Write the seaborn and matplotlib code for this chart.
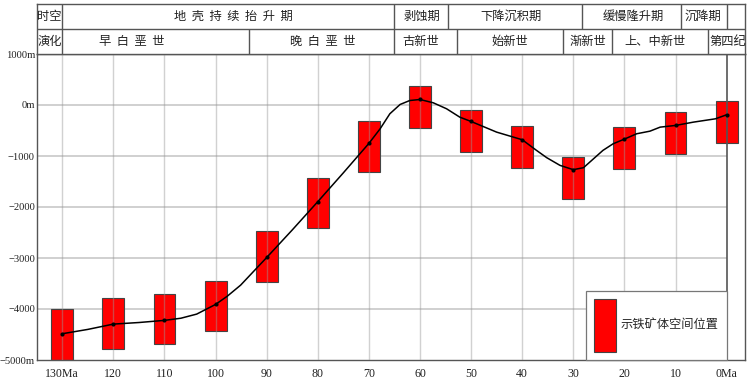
import matplotlib
matplotlib.use("Agg")
import matplotlib.pyplot as plt
from matplotlib.patches import Patch
import seaborn as sns
import pandas as pd

# ---------------- data ----------------
ages = [130, 120, 110, 100, 90, 80, 70, 60, 50, 40, 30, 20, 10, 0]
bar_top = [-4000, -3790, -3710, -3450, -2470, -1425, -317, 382, -94, -421, -1022, -434, -147, 75]
bar_bottom = [-5000, -4780, -4690, -4430, -3470, -2417, -1307, -446, -924, -1237, -1836, -1256, -969, -747]
point_depth = [-4485, -4296, -4223, -3910, -2990, -1895, -753, 108, -323, -681, -1268, -669, -401, -192]

curve_ma = [130, 125, 120, 115, 110, 106.8, 103.7, 100, 97.7, 95.1, 90, 85, 80, 75, 70,
            67.8, 65.9, 63.9, 62, 60, 57.4, 54.8, 52.2, 50, 45, 40, 37.2, 35.2, 32.6, 30,
            28, 24.2, 22.2, 20, 17.6, 15, 13, 10, 6.5, 2.2, 0]
curve_depth = [-4485, -4400, -4296, -4265, -4223, -4181, -4100, -3910, -3748, -3532, -2990,
               -2450, -1895, -1330, -753, -466, -172, 10, 88, 108, 43, -74, -239, -323,
               -532, -681, -890, -1033, -1184, -1268, -1229, -890, -760, -669, -564, -513,
               -434, -401, -336, -271, -192]

x_ticks = [130, 120, 110, 100, 90, 80, 70, 60, 50, 40, 30, 20, 10, 0]
x_labels = ["130Ma", "120", "110", "100", "90", "80", "70", "60", "50", "40", "30", "20", "10", "0Ma"]
y_ticks = [1000, 0, -1000, -2000, -3000, -4000, -5000]
y_labels = ["1000m", "0m", "\u22121000", "\u22122000", "\u22123000", "\u22124000", "\u22125000m"]

legend_label = "示铁矿体空间位置"

# header rows: (label, x position in Ma)
row1_labels = ["时空", "地  壳  持  续  抬  升  期", "剥蚀期", "下降沉积期", "缓慢隆升期", "沉降期"]
row1_pos = [132.5, 96.6, 59.7, 42.1, 18.3, 4.7]
row1_bounds = [130, 65.1, 54.5, 28.3, 8.9, 0]
row2_labels = ["演化", "早  白  垩  世", "晚  白  垩  世", "古新世", "始新世", "渐新世", "上、中新世", "第四纪"]
row2_pos = [132.5, 116.4, 79.0, 59.8, 42.4, 27.1, 14.0, 3.4]
row2_bounds = [130, 93.4, 65.1, 52.8, 32.0, 22.4, 3.6]

# ---------------- style ----------------
sns.set_theme(style="white")
plt.rcParams["font.family"] = ["Liberation Serif", "Noto Sans CJK SC", "DejaVu Sans"]
plt.rcParams["axes.unicode_minus"] = True
CJK = ["Noto Sans CJK SC", "DejaVu Sans"]
LINE = "#555555"
GRID = "#c8c8c8"

W, H = 748, 382
fig = plt.figure(figsize=(W / 100, H / 100), dpi=100)

X0, X1 = 37, 745
Y_TOP, Y_BOT = 54, 360
HEAD_TOP = 4
XLIM = (134.95, -3.6)

ax = fig.add_axes([X0 / W, 1 - Y_BOT / H, (X1 - X0) / W, (Y_BOT - Y_TOP) / H])
axh = fig.add_axes([X0 / W, 1 - Y_TOP / H, (X1 - X0) / W, (Y_TOP - HEAD_TOP) / H])

# ---------------- main plot ----------------
ax.set_xlim(*XLIM)
ax.set_ylim(-5000, 1000)

# horizontal grid lines (stop at 0 Ma)
ax.hlines([0, -1000, -2000, -3000, -4000], XLIM[0], 0, color=GRID, lw=1.2, zorder=0)

bar_height = [t - b for t, b in zip(bar_top, bar_bottom)]
ax.bar(ages, bar_height, bottom=bar_bottom, width=4.3, color="#ff0000",
       edgecolor="#444444", linewidth=0.8, zorder=2)

# vertical grid lines, drawn over bars
for a in x_ticks[:-1]:
    ax.axvline(a, color="#999999", lw=1.0, alpha=0.45, zorder=3)
ax.axvline(0, color=LINE, lw=1.2, zorder=3)

df_curve = pd.DataFrame({"ma": curve_ma, "depth": curve_depth})
sns.lineplot(data=df_curve, x="ma", y="depth", sort=False, color="black", lw=1.1,
             ax=ax, zorder=4)
df_pts = pd.DataFrame({"ma": ages, "depth": point_depth})
sns.scatterplot(data=df_pts, x="ma", y="depth", color="black", s=9, linewidth=0,
                ax=ax, zorder=5)

ax.set_xticks(x_ticks)
ax.set_xticklabels(x_labels)
ax.set_yticks(y_ticks)
ax.set_yticklabels(y_labels)
ax.tick_params(axis="both", length=0, colors="#222222")
ax.tick_params(axis="x", pad=6, labelsize=8.6)
ax.tick_params(axis="y", pad=1.5, labelsize=7.6)
ax.set_xlabel("")
ax.set_ylabel("")
for s in ax.spines.values():
    s.set_color(LINE)
    s.set_linewidth(1.0)

leg = ax.legend(handles=[Patch(facecolor="#ff0000", edgecolor="#444444", linewidth=0.8,
                               label=legend_label)],
                loc="lower right", bbox_to_anchor=(0, -5000),
                bbox_transform=ax.transData, borderaxespad=0,
                handlelength=1.83, handleheight=6.3, handletextpad=0.35,
                borderpad=0.65, fancybox=False, framealpha=1,
                prop={"family": CJK, "size": 8.8})
leg.get_frame().set_edgecolor("#777777")
leg.get_frame().set_linewidth(0.9)
leg.set_zorder(6)

# ---------------- header ----------------
axh.set_xlim(*XLIM)
axh.set_ylim(0, 2)
axh.set_xticks([])
axh.set_yticks([])
for s in axh.spines.values():
    s.set_color(LINE)
    s.set_linewidth(1.0)
axh.axhline(1, color=LINE, lw=1.0)
axh.vlines(row1_bounds, 1, 2, color=LINE, lw=1.0)
axh.vlines(row2_bounds, 0, 1, color=LINE, lw=1.0)

for lab, x in zip(row1_labels, row1_pos):
    axh.text(x, 1.5, lab, ha="center", va="center", fontsize=8.8, family=CJK, color="#222222")
for i, (lab, x) in enumerate(zip(row2_labels, row2_pos)):
    ha = "left" if i == len(row2_labels) - 1 else "center"
    axh.text(x, 0.5, lab, ha=ha, va="center", fontsize=8.8, family=CJK, color="#222222")

fig.savefig("out.png", dpi=100)
